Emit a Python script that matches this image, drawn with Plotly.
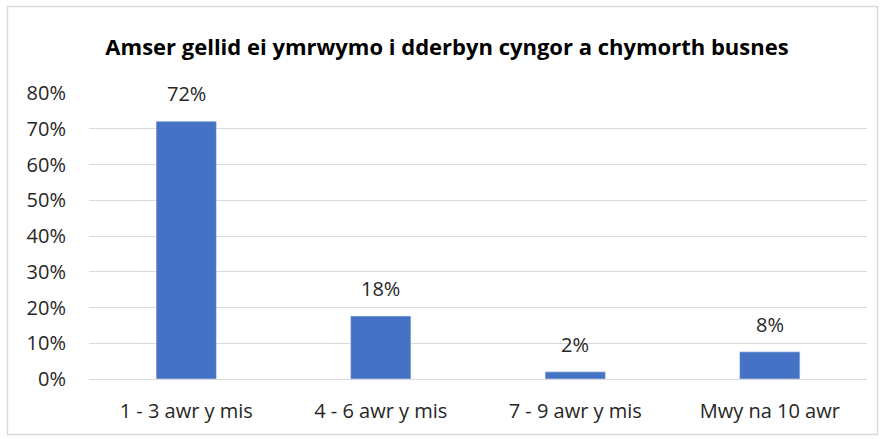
import plotly.graph_objects as go

categories = ["1 - 3 awr y mis", "4 - 6 awr y mis", "7 - 9 awr y mis", "Mwy na 10 awr"]
values = [72.1, 17.6, 2.0, 7.6]
tick_vals = [0, 10, 20, 30, 40, 50, 60, 70, 80]
tick_text = ["0%", "10%", "20%", "30%", "40%", "50%", "60%", "70%", "80%"]
title_text = "Amser gellid ei ymrwymo i dderbyn cyngor a chymorth busnes"

FONT = "Open Sans"
TXT = "#262626"
SIZE = 20
fig = go.Figure()
fig.add_trace(go.Bar(
    x=categories, y=values, marker_color="#4472C4", width=0.31,
    hoverinfo="skip",
))
for c, v in zip(categories, values):
    fig.add_annotation(x=c, y=v, text=f"{v:.0f}%", showarrow=False,
                       yanchor="bottom", yshift=12,
                       font=dict(family=FONT, size=SIZE, color=TXT))

L, R, T, B = 89, 17, 93, 60
W, H = 884, 439
pw, ph = W - L - R, H - T - B
fig.add_shape(type="rect", xref="paper", yref="paper",
              x0=(7.5 - L) / pw, x1=(877.5 - L) / pw,
              y0=(H - B - 434.5) / ph, y1=(H - B - 6.5) / ph,
              line=dict(color="#D9D9D9", width=1.5), fillcolor="rgba(0,0,0,0)", layer="below")

fig.update_layout(
    width=W, height=H,
    margin=dict(l=L, r=R, t=T, b=B),
    paper_bgcolor="white", plot_bgcolor="white",
    showlegend=False,
    title=dict(text="<b>" + title_text + "</b>", x=447 / W, xref="container", xanchor="center",
               y=(H - 47) / H, yanchor="middle",
               font=dict(family=FONT, size=22, color="#000000")),
    font=dict(family=FONT, size=SIZE, color=TXT),
    xaxis=dict(showline=False, ticks="", ticklabelstandoff=18,
               tickfont=dict(size=SIZE, color=TXT)),
    yaxis=dict(range=[0, 80], tickvals=tick_vals, ticktext=tick_text,
               showgrid=True, gridcolor="#D9D9D9", gridwidth=1,
               zeroline=True, zerolinecolor="#D9D9D9", zerolinewidth=1,
               ticks="", ticklabelstandoff=22,
               tickfont=dict(size=SIZE, color=TXT)),
)
fig.write_html("out.html", config={"displayModeBar": False},
               post_script="document.body.style.margin='0';")
